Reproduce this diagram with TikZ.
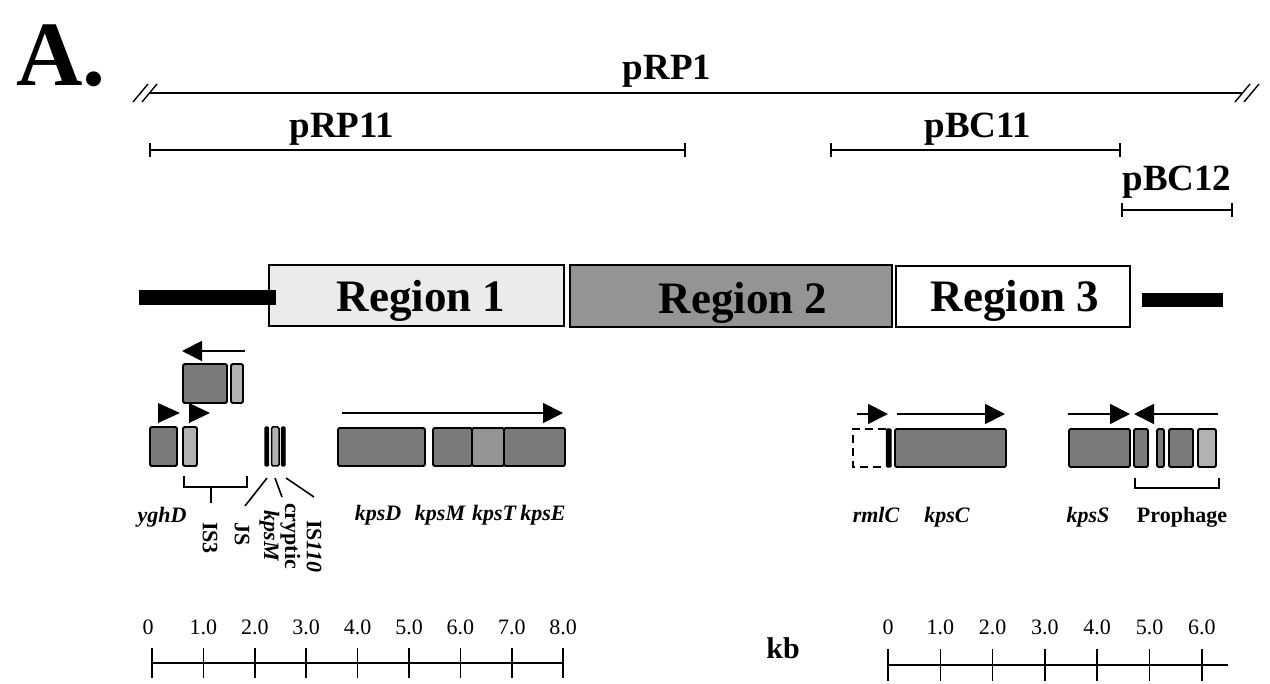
\documentclass[tikz,border=0pt]{standalone}
\usepackage{fontspec}
\setmainfont{Liberation Serif}
\usetikzlibrary{arrows.meta}
\begin{document}
\begin{tikzpicture}[x=1pt,y=-1pt,
  gene/.style={draw=black, line width=1.8pt, rounded corners=1.5pt, fill=black!52},
  genelt/.style={gene, fill=black!30},
  slim/.style={draw=black, line width=1.2pt, rounded corners=1pt, fill=black},
  bar/.style={line width=1.6pt},
  dir/.style={line width=1.8pt, -{Triangle[length=20pt,width=20pt]}},
  head/.style={fill=black},
  clone/.style={line width=1.8pt},
  clonelbl/.style={font=\fontsize{37}{38}\selectfont\bfseries, inner sep=0, anchor=base},
  region/.style={draw=black, line width=1.3pt},
  reglbl/.style={font=\fontsize{45}{48}\selectfont\bfseries, inner sep=0, anchor=base},
  lbl/.style={font=\fontsize{22}{22}\selectfont\bfseries\itshape, inner sep=0, anchor=base},
  lblup/.style={font=\fontsize{22}{22}\selectfont\bfseries, inner sep=0, anchor=base},
  rot/.style={font=\fontsize{22}{21}\selectfont\bfseries, inner sep=0, rotate=-90, anchor=west},
  num/.style={font=\fontsize{22}{22}\selectfont, inner sep=0, anchor=base},
  axis/.style={line width=1.8pt}]
\useasboundingbox (0,0) rectangle (1270,684);

% panel letter
\node[font=\fontsize{92}{92}\selectfont\bfseries, inner sep=0, anchor=base west] (panel) at (16,86) {A.};

% clone extents
\coordinate (p1a) at (150,93);
\coordinate (p1b) at (1242,93);
\draw[clone] (p1a) -- (p1b);
\draw[line width=1.4pt] (133,102) -- (148,84) (142,102) -- (157,84);
\draw[line width=1.4pt] (1235,102) -- (1250,84) (1244,102) -- (1259,84);
\node[clonelbl] (lp1) at (667,80) {pRP1};

\coordinate (p11a) at (150,150);
\coordinate (p11b) at (685,150);
\draw[clone] (p11a) -- (p11b);
\draw[line width=1.2pt] ([yshift=-7pt]p11a) -- ([yshift=7pt]p11a) ([yshift=-7pt]p11b) -- ([yshift=7pt]p11b);
\node[clonelbl] (lp11) at (342,138) {pRP11};

\coordinate (b11a) at (831,150);
\coordinate (b11b) at (1120,150);
\draw[clone] (b11a) -- (b11b);
\draw[line width=1.2pt] ([yshift=-7pt]b11a) -- ([yshift=7pt]b11a) ([yshift=-7pt]b11b) -- ([yshift=7pt]b11b);
\node[clonelbl] (lb11) at (978,138) {pBC11};

\coordinate (b12a) at (1122,210);
\coordinate (b12b) at (1232,210);
\draw[clone] (b12a) -- (b12b);
\draw[line width=1.2pt] ([yshift=-7pt]b12a) -- ([yshift=7pt]b12a) ([yshift=-7pt]b12b) -- ([yshift=7pt]b12b);
\node[clonelbl] (lb12) at (1177,191) {pBC12};

% regions
\draw[region, fill=black!8] (269,265) rectangle (564,326);
\draw[region, fill=black!42] (570,265) rectangle (892,327);
\draw[region, fill=white] (896,266) rectangle (1130,327);
\fill (139,290) rectangle (276,305);
\fill (1142,293) rectangle (1223,307);
\node[reglbl] (r1) at (421,312) {Region 1};
\node[reglbl] (r2) at (743,314) {Region 2};
\node[reglbl] (r3) at (1015,312) {Region 3};

% left cluster: IS elements around yghD
\draw[dir] (245,351) -- (182,351);
\draw[gene] (183,364) rectangle (227,403);
\draw[genelt] (231,364) rectangle (243,403);
\fill[head] (158,403) -- (180,413) -- (158,423) -- cycle;
\fill[head] (189,403) -- (210,413) -- (189,423) -- cycle;
\draw[gene] (150,427) rectangle (177,466);
\draw[genelt] (183,427) rectangle (197,466);
\draw[slim] (265,427) rectangle (268.5,466);
\draw[genelt, line width=1.5pt] (271.5,427) rectangle (279,466);
\draw[slim] (281.5,427) rectangle (285,466);
\draw[bar] (184,476) -- (184,487) -- (247,487) -- (247,476);
\draw[bar] (211,487) -- (211,503);
\draw[bar] (267,478) -- (245,506);
\draw[bar] (275,478) -- (282,497);
\draw[bar] (286,478) -- (314,497);

\node[lbl] (yghD) at (162,523) {yghD};
\node[rot] (is3) at (210,522) {IS3};
\node[rot] (js) at (242,522) {JS};
\node[rot, align=center] (crypt) at (280,503) {cryptic\\\textit{kpsM}};
\node[rot] (is110) at (314,520) {IS\textit{110}};

% kpsDMTE operon
\draw[dir] (342,413) -- (563,413);
\draw[gene] (338,428) rectangle (425,466);
\draw[gene] (433,428) rectangle (472,466);
\draw[gene, fill=black!42] (472,428) rectangle (504,466);
\draw[gene] (504,428) rectangle (565,466);
\node[lbl] (kD) at (378,521) {kpsD};
\node[lbl] (kM) at (440,521) {kpsM};
\node[lbl] (kT) at (494,521) {kpsT};
\node[lbl] (kE) at (543,521) {kpsE};

% rmlC / kpsC
\draw[dir] (857,414) -- (888,414);
\draw[line width=1.6pt, dash pattern=on 8pt off 5pt] (886,429) -- (853,429) -- (853,467) -- (886,467);
\draw[slim] (886.5,429) rectangle (891,467);
\draw[dir] (897,414) -- (1005,414);
\draw[gene] (895,429) rectangle (1006,467);
\node[lbl] (rmlC) at (876,523) {rmlC};
\node[lbl] (kC) at (947,523) {kpsC};

% kpsS and prophage
\draw[dir] (1068,414) -- (1130,414);
\draw[dir] (1218,414) -- (1134,414);
\draw[gene] (1069,429) rectangle (1130,467);
\draw[gene] (1134,429) rectangle (1148,467);
\draw[gene] (1157,429) rectangle (1164,467);
\draw[gene] (1169,429) rectangle (1193,467);
\draw[genelt] (1198,429) rectangle (1216,467);
\draw[bar] (1135,478) -- (1135,488) -- (1219,488) -- (1219,478);
\node[lbl] (kS) at (1088,523) {kpsS};
\node[lblup] (pro) at (1182,523) {Prophage};

% scale bars
\draw[axis] (152,663) -- (563,663);
\foreach \i/\t in {0/0,1/1.0,2/2.0,3/3.0,4/4.0,5/5.0,6/6.0,7/7.0,8/8.0} {
  \draw[line width=1.6pt] ({152+51.4*\i},648) -- ({152+51.4*\i},678);
  \node[num] at ({152+51.4*\i-(\i==0?4:0)},634) {\t};
}
\draw[axis] (888,665) -- (1228,665);
\foreach \i/\t in {0/0,1/1.0,2/2.0,3/3.0,4/4.0,5/5.0,6/6.0} {
  \draw[line width=1.6pt] ({888+52.3*\i},649) -- ({888+52.3*\i},681);
  \node[num] at ({888+52.3*\i},634) {\t};
}
\node[font=\fontsize{30}{30}\selectfont\bfseries, inner sep=0, anchor=base] (kb) at (783,658) {kb};
\end{tikzpicture}
\end{document}
